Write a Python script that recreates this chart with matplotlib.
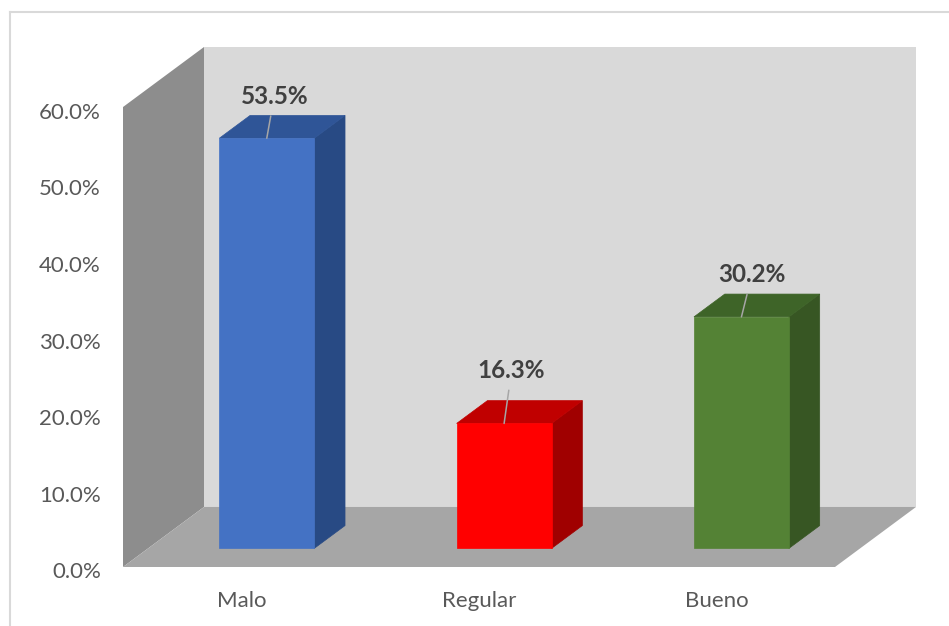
"""3D-style column chart: percentage per rating category."""

import matplotlib.pyplot as plt
import matplotlib.transforms as mtransforms
from matplotlib.lines import Line2D
from matplotlib.patches import Polygon

plt.rcParams["font.family"] = ["Lato", "DejaVu Sans"]

categories = ["Malo", "Regular", "Bueno"]
percentages = [53.5, 16.3, 30.2]
y_ticks = [0, 10, 20, 30, 40, 50, 60]

# face colours per bar: front, top, right side
front_colors = ["#4472c4", "#ff0000", "#548235"]
top_colors = ["#2f5597", "#c00000", "#3e6428"]
side_colors = ["#284a84", "#a00000", "#375623"]

# oblique depth of the plot box, in data units (x = category, y = percent)
DEPTH_X = 0.3413
DEPTH_Y = 7.83
BAR_WIDTH = 0.4
BAR_DEPTH = (0.31, 0.69)  # fraction of the box depth occupied by the bars

# per-label offsets (pixels) from the front-top edge of each bar
label_offsets = [(7.5, 42), (7.5, 53), (10.5, 42)]

W, H = 949, 626
fig = plt.figure(figsize=(W / 100, H / 100), dpi=100)
fig.patch.set_facecolor("white")

x_lo, x_hi = -0.5, len(categories) - 0.5
y_top = y_ticks[-1]

left_px, right_px, front_px, top_px = 123, 916, 567, 47
ax = fig.add_axes([left_px / W, 1 - front_px / H,
                   (right_px - left_px) / W, (front_px - top_px) / H])
ax.set_xlim(x_lo, x_hi + DEPTH_X)
ax.set_ylim(0, y_top + DEPTH_Y)
for spine in ax.spines.values():
    spine.set_visible(False)
ax.set_facecolor("none")


def shift(x, y, d):
    """Project a point at depth fraction d onto the page."""
    return (x + d * DEPTH_X, y + d * DEPTH_Y)


# walls and floor
left_wall = [shift(x_lo, 0, 0), shift(x_lo, 0, 1), shift(x_lo, y_top, 1), shift(x_lo, y_top, 0)]
back_wall = [shift(x_lo, 0, 1), shift(x_hi, 0, 1), shift(x_hi, y_top, 1), shift(x_lo, y_top, 1)]
floor = [shift(x_lo, 0, 0), shift(x_hi, 0, 0), shift(x_hi, 0, 1), shift(x_lo, 0, 1)]
ax.add_patch(Polygon(left_wall, closed=True, facecolor="#8d8d8d", edgecolor="none", zorder=1))
ax.add_patch(Polygon(back_wall, closed=True, facecolor="#d9d9d9", edgecolor="none", zorder=1))
ax.add_patch(Polygon(floor, closed=True, facecolor="#a6a6a6", edgecolor="none", zorder=2))

d0, d1 = BAR_DEPTH
for i, value in enumerate(percentages):
    xl, xr = i - BAR_WIDTH / 2, i + BAR_WIDTH / 2
    front = [shift(xl, 0, d0), shift(xr, 0, d0), shift(xr, value, d0), shift(xl, value, d0)]
    top = [shift(xl, value, d0), shift(xr, value, d0), shift(xr, value, d1), shift(xl, value, d1)]
    side = [shift(xr, 0, d0), shift(xr, 0, d1), shift(xr, value, d1), shift(xr, value, d0)]
    ax.add_patch(Polygon(side, closed=True, facecolor=side_colors[i],
                         edgecolor=side_colors[i], lw=0.5, zorder=3))
    ax.add_patch(Polygon(top, closed=True, facecolor=top_colors[i],
                         edgecolor=top_colors[i], lw=0.5, zorder=3))
    ax.add_patch(Polygon(front, closed=True, facecolor=front_colors[i],
                         edgecolor=front_colors[i], lw=0.5, zorder=4))

    anchor = shift(i, value, d0)
    ax.annotate(f"{value:.1f}%", xy=anchor, xytext=label_offsets[i],
                textcoords="offset pixels", ha="center", va="center",
                fontsize=17.5, fontweight="bold", color="#404040", zorder=6,
                arrowprops=dict(arrowstyle="-", color="#a6a6a6", lw=1.1,
                                shrinkA=4, shrinkB=0))

ax.set_yticks(y_ticks)
ax.set_yticklabels([f"{t:.1f}%" for t in y_ticks])
ax.set_xticks(range(len(categories)))
ax.set_xticklabels(categories)
ax.tick_params(axis="y", length=0, pad=16, labelsize=16, labelcolor="#595959")
ax.tick_params(axis="x", length=0, pad=17, labelsize=16, labelcolor="#595959")

# value labels sit a few pixels below the front edge of the box
nudge = mtransforms.ScaledTranslation(0, -3.5 / 100, fig.dpi_scale_trans)
for lbl in ax.get_yticklabels():
    lbl.set_transform(lbl.get_transform() + nudge)

# chart-area border
border = "#d9d9d9"
fig.add_artist(Line2D([9.7 / W, 1], [1 - 12 / H, 1 - 12 / H], color=border, lw=1.5))
fig.add_artist(Line2D([9.7 / W, 9.7 / W], [0, 1 - 12 / H], color=border, lw=1.5))

fig.savefig("out.png", dpi=100)
